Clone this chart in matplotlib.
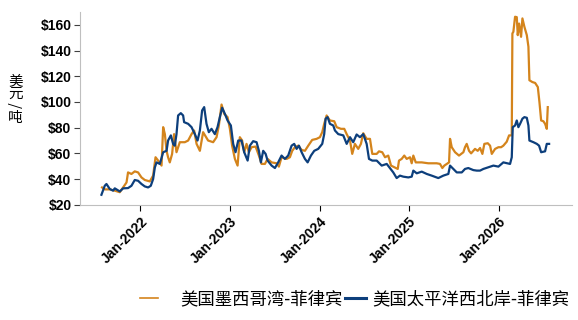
import numpy as np
import pandas as pd
import matplotlib
matplotlib.use("Agg")
import matplotlib.pyplot as plt
import matplotlib.dates as mdates
from matplotlib.lines import Line2D

plt.rcParams["font.family"] = ["Liberation Sans", "Noto Sans CJK SC", "DejaVu Sans"]

# time axis in decimal years, values in USD/ton
gulf_t = [2021.571, 2021.601, 2021.657, 2021.713, 2021.769, 2021.806, 2021.844, 2021.861,
          2021.899, 2021.936, 2021.973, 2022.011, 2022.048, 2022.104, 2022.141, 2022.168,
          2022.197, 2022.235, 2022.253, 2022.272, 2022.291, 2022.308, 2022.327, 2022.353,
          2022.375, 2022.402, 2022.439, 2022.495, 2022.532, 2022.570, 2022.599, 2022.626,
          2022.663, 2022.699, 2022.755, 2022.811, 2022.849, 2022.875, 2022.905, 2022.934,
          2022.972, 2022.998, 2023.023, 2023.054, 2023.084, 2023.109, 2023.135, 2023.158,
          2023.184, 2023.210, 2023.240, 2023.285, 2023.322, 2023.352, 2023.389, 2023.419,
          2023.464, 2023.520, 2023.545, 2023.575, 2023.631, 2023.668, 2023.694, 2023.724,
          2023.761, 2023.799, 2023.836, 2023.873, 2023.917, 2023.966, 2024.003, 2024.029,
          2024.051, 2024.078, 2024.115, 2024.163, 2024.190, 2024.238, 2024.275, 2024.302,
          2024.339, 2024.364, 2024.394, 2024.431, 2024.461, 2024.487, 2024.525, 2024.562,
          2024.588, 2024.637, 2024.663, 2024.699, 2024.730, 2024.766, 2024.797, 2024.834,
          2024.872, 2024.886, 2024.916, 2024.945, 2024.972, 2025.009, 2025.028, 2025.046,
          2025.073, 2025.140, 2025.213, 2025.307, 2025.344, 2025.370, 2025.392, 2025.419,
          2025.445, 2025.456, 2025.475, 2025.512, 2025.556, 2025.605, 2025.623, 2025.642,
          2025.668, 2025.691, 2025.735, 2025.765, 2025.791, 2025.817, 2025.839, 2025.877,
          2025.903, 2025.922, 2025.959, 2025.996, 2026.026, 2026.051, 2026.089, 2026.115,
          2026.145, 2026.152, 2026.163, 2026.182, 2026.201, 2026.212, 2026.227, 2026.249,
          2026.264, 2026.286, 2026.313, 2026.331, 2026.342, 2026.375, 2026.406, 2026.436,
          2026.454, 2026.473, 2026.498, 2026.517, 2026.536, 2026.547]
gulf = [33.5, 32, 32, 31, 29.8, 33.5, 37.4, 45.2, 44, 46, 45.2, 41.3, 39.3, 38.2, 42.7, 57,
        54.4, 50.5, 80.4, 75, 62, 57, 53, 59.6, 75, 60.9, 68.7, 68.7, 70, 75, 77.8, 67.4,
        62, 76.5, 70, 68.7, 72.6, 81.7, 98, 90.8, 88.2, 79.1, 66, 55.7, 50.5, 72.6, 70, 60.9,
        67.4, 60.9, 64.8, 65.3, 58.3, 51.8, 51.8, 55.7, 53, 52.3, 49.7, 57, 55.7, 57, 62, 64.8,
        66, 62.7, 62, 66, 70.5, 71.3, 72.6, 76.5, 83, 89.5, 85.6, 85, 80.4, 79.1, 79.1, 75,
        70, 59.6, 67.4, 63.5, 67.4, 75.7, 71.3, 71.3, 59.6, 59.6, 61.6, 60.9, 57, 58.3, 50.5,
        49.2, 47.9, 54.4, 55.7, 58.3, 55.7, 57, 52.3, 58.3, 53, 53, 52.3, 52.3, 51.8, 48.6,
        50.5, 51.8, 53, 71.3, 64.8, 60.9, 58.3, 60.9, 64.8, 67.4, 62, 60, 63.5, 62, 64.2,
        59.6, 67.4, 67.9, 66, 59.6, 63.5, 64.8, 64.8, 66, 69.1, 74, 74, 153.3, 154.6, 166.3,
        166, 152, 161, 150.7, 165, 158.5, 152, 143, 116.9, 115.5, 114.8, 111.6, 99.9, 85.6,
        85, 83, 79.1, 96]

pnw_t = [2021.564, 2021.601, 2021.620, 2021.657, 2021.694, 2021.713, 2021.769, 2021.806,
         2021.861, 2021.899, 2021.936, 2021.973, 2022.011, 2022.048, 2022.085, 2022.115,
         2022.141, 2022.160, 2022.179, 2022.216, 2022.253, 2022.291, 2022.308, 2022.339,
         2022.364, 2022.383, 2022.402, 2022.420, 2022.450, 2022.476, 2022.487, 2022.532,
         2022.570, 2022.607, 2022.637, 2022.663, 2022.688, 2022.711, 2022.737, 2022.763,
         2022.793, 2022.830, 2022.860, 2022.886, 2022.912, 2022.942, 2022.972, 2023.009,
         2023.035, 2023.061, 2023.091, 2023.128, 2023.158, 2023.196, 2023.221, 2023.258,
         2023.296, 2023.322, 2023.344, 2023.370, 2023.397, 2023.419, 2023.464, 2023.501,
         2023.537, 2023.575, 2023.612, 2023.649, 2023.687, 2023.716, 2023.743, 2023.769,
         2023.799, 2023.836, 2023.866, 2023.903, 2023.940, 2023.984, 2024.029, 2024.051,
         2024.067, 2024.089, 2024.115, 2024.152, 2024.171, 2024.208, 2024.264, 2024.302,
         2024.339, 2024.375, 2024.413, 2024.450, 2024.487, 2024.525, 2024.551, 2024.588,
         2024.637, 2024.693, 2024.749, 2024.786, 2024.822, 2024.860, 2024.897, 2024.934,
         2024.990, 2025.028, 2025.046, 2025.084, 2025.140, 2025.196, 2025.251, 2025.325,
         2025.381, 2025.437, 2025.456, 2025.493, 2025.531, 2025.587, 2025.623, 2025.660,
         2025.716, 2025.754, 2025.791, 2025.828, 2025.884, 2025.940, 2025.996, 2026.051,
         2026.126, 2026.145, 2026.156, 2026.182, 2026.201, 2026.219, 2026.238, 2026.264,
         2026.286, 2026.313, 2026.331, 2026.342, 2026.387, 2026.425, 2026.450, 2026.473,
         2026.517, 2026.536, 2026.562]
pnw = [27.8, 34.8, 36.2, 32.3, 31, 32.8, 30.4, 32.8, 33, 34.8, 39.3, 38.7, 36.2, 34.3,
       33.5, 34.8, 40, 49, 53, 51.8, 60.9, 62, 70, 74, 67.4, 66, 75, 89.5, 91.3, 89.5, 84.3,
       83, 80.4, 75, 70, 77.8, 93.4, 96, 83, 76.5, 79.1, 75, 80.4, 88.2, 95.5, 90.8, 85.6,
       81.7, 67.4, 60.9, 70, 70, 60.9, 54.4, 66, 69.5, 68.7, 62, 53, 62, 59.6, 54.4, 50.5,
       48.6, 53, 58.3, 55.7, 58.3, 66, 67.4, 63.5, 66, 60.9, 55.7, 53, 58.3, 62, 63.5, 67.4,
       75, 87, 88.2, 83, 81.7, 77.8, 75, 74, 67.4, 72.6, 68.7, 74.7, 72.6, 75, 67.4, 55.7,
       54.4, 54.4, 50.5, 51.8, 48.5, 45.2, 40.8, 42.7, 41.9, 41.3, 41.9, 46.6, 44.5, 45.8, 44,
       42.7, 40.8, 42.7, 44, 50.5, 47.9, 45.2, 45.2, 47.9, 48.6, 47, 46.6, 46.6, 47.9, 49.2,
       50.5, 49.7, 53, 51.8, 57, 80.4, 81.7, 85.6, 80.4, 83, 87, 88.2, 87.7, 81.7, 70, 68.7,
       67.4, 66, 60.9, 61.6, 67.4, 67.4]

y_ticks = [20, 40, 60, 80, 100, 120, 140, 160]
x_ticks = ["2022-01-01", "2023-01-01", "2024-01-01", "2025-01-01", "2026-01-01"]
names = ["美国墨西哥湾-菲律宾", "美国太平洋西北岸-菲律宾"]
colors = ["#D4841C", "#0D3F7C"]
cjk = ["Noto Sans CJK SC", "DejaVu Sans"]


def to_dates(t):
    t = np.asarray(t)
    return pd.Timestamp("2022-01-01") + pd.to_timedelta((t - 2022) * 365.25, unit="D")


fig = plt.figure(figsize=(5.78, 3.2), dpi=100)
ax = fig.add_axes([0.138, 0.36, 0.852, 0.6025])

ax.plot(to_dates(gulf_t), gulf, color=colors[0], lw=1.6)
ax.plot(to_dates(pnw_t), pnw, color=colors[1], lw=1.6)

ax.set_ylim(20, 170)
ax.set_xlim(to_dates([2021.322])[0], to_dates([2026.82])[0])
ax.set_yticks(y_ticks)
ax.set_yticklabels([f"${v}" for v in y_ticks], fontsize=10, fontweight="bold")
ax.set_xticks(pd.to_datetime(x_ticks))
ax.xaxis.set_major_formatter(mdates.DateFormatter("%b-%Y"))
for lbl in ax.get_xticklabels():
    lbl.set_rotation(45)
    lbl.set_ha("right")
    lbl.set_rotation_mode("anchor")
    lbl.set_fontweight("bold")
    lbl.set_fontsize(10)

for s in ["top", "right"]:
    ax.spines[s].set_visible(False)
for s in ["left", "bottom"]:
    ax.spines[s].set_color("#BFBFBF")
ax.tick_params(axis="y", direction="out", length=4, color="#404040", pad=2)
ax.tick_params(axis="x", direction="out", length=4, color="#000000", pad=3)

# vertical unit label
for ch, yy in zip(["美", "元", "/", "吨"], [0.748, 0.708, 0.672, 0.632]):
    fig.text(0.027, yy, ch, fontsize=10.5, ha="center", va="center", family=cjk,
             rotation=90 if ch == "/" else 0)

# legend
fig.add_artist(Line2D([140 / 578, 158 / 578], [0.07, 0.07], color=colors[0], lw=1.2))
fig.text(180 / 578, 0.066, names[0], fontsize=12.5, va="center", family=cjk)
fig.add_artist(Line2D([345 / 578, 366 / 578], [0.07, 0.07], color=colors[1], lw=2.2))
fig.text(372 / 578, 0.066, names[1], fontsize=12.5, va="center", family=cjk)

fig.savefig("out.png", dpi=100)
